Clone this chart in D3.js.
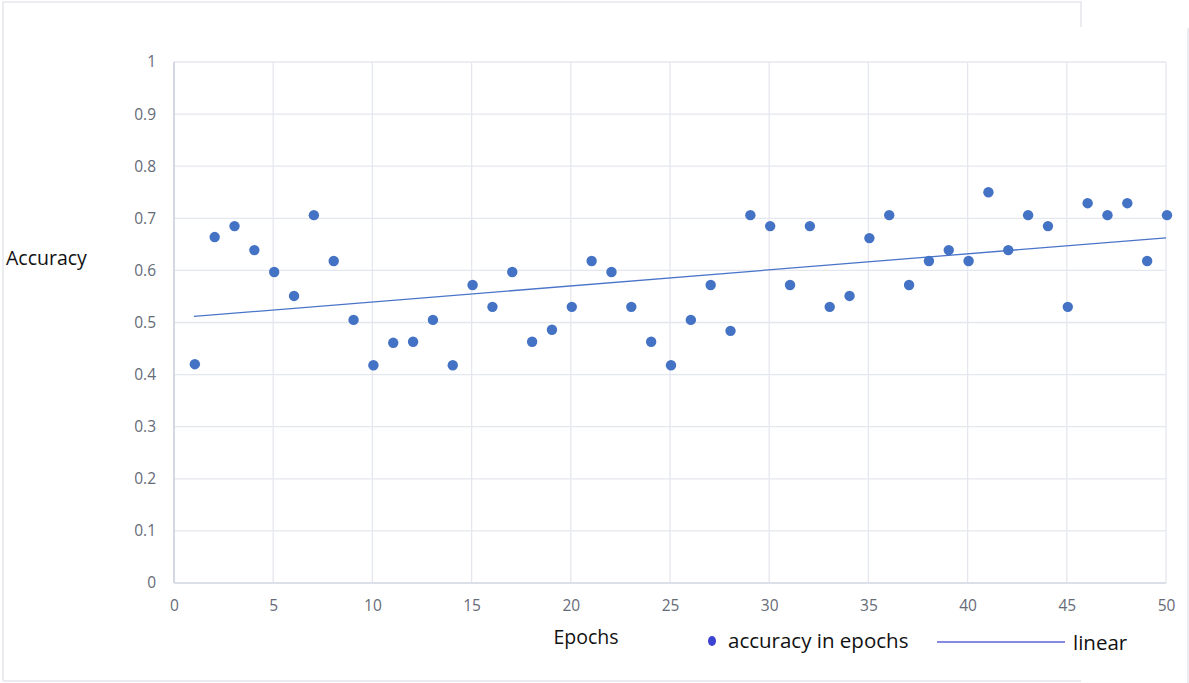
<!DOCTYPE html>
<html><head><meta charset="utf-8">
<script src="https://cdn.jsdelivr.net/npm/d3@7"></script>
<style>body{margin:0;background:#fff}svg{display:block}text{font-family:"Open Sans","Noto Sans",sans-serif}</style>
</head><body>
<svg id="c" width="1189" height="683"></svg>
<script>
const epochs = d3.range(1, 51);
const accuracy = [0.420,0.664,0.685,0.639,0.597,0.551,0.706,0.618,0.505,0.418,
0.461,0.463,0.505,0.418,0.572,0.530,0.597,0.463,0.486,0.530,
0.618,0.597,0.530,0.463,0.418,0.505,0.572,0.484,0.706,0.685,
0.572,0.685,0.530,0.551,0.662,0.706,0.572,0.618,0.639,0.618,
0.750,0.639,0.706,0.685,0.530,0.729,0.706,0.729,0.618,0.706];
const xTicks = [0,5,10,15,20,25,30,35,40,45,50];
const yTicks = [0,0.1,0.2,0.3,0.4,0.5,0.6,0.7,0.8,0.9,1];
const seriesName = "accuracy in epochs";
const trendName = "linear";

const svg = d3.select("#c");
const x = d3.scaleLinear().domain([0,50]).range([174,1166]);
const y = d3.scaleLinear().domain([0,1]).range([583,62]);

// outer frame
const frame = svg.append("g").attr("stroke","#e3e6ec").attr("fill","none").attr("stroke-width",1.5);
frame.append("path").attr("d","M3,681 V2 H1081 V27");
frame.append("path").attr("d","M1188,28 V683");
frame.append("path").attr("d","M3,681 H1081");

// grid
svg.append("g").selectAll("line").data(yTicks).join("line")
  .attr("x1",x(0)).attr("x2",x(50)).attr("y1",d=>y(d)).attr("y2",d=>y(d))
  .attr("stroke","#e4e7ee").attr("stroke-width",1.3);
svg.append("g").selectAll("line").data(xTicks).join("line")
  .attr("y1",y(0)).attr("y2",y(1)).attr("x1",d=>x(d)).attr("x2",d=>x(d))
  .attr("stroke","#e4e7ee").attr("stroke-width",1.3);
// axis lines
svg.append("line").attr("x1",x(0)).attr("x2",x(0)).attr("y1",y(0)).attr("y2",y(1)).attr("stroke","#c5ccd9").attr("stroke-width",1.3);
svg.append("line").attr("x1",x(0)).attr("x2",x(50)).attr("y1",y(0)).attr("y2",y(0)).attr("stroke","#d6dbe4").attr("stroke-width",1.3);

// tick labels
const yAxis = d3.axisLeft(y).tickValues(yTicks).tickSize(0).tickPadding(18).tickFormat(d=>d3.format("~g")(d));
const gy = svg.append("g").attr("transform",`translate(${x(0)},0)`).call(yAxis);
gy.select(".domain").remove();
gy.selectAll("text").attr("fill","#666b78").attr("font-size",15.5).attr("font-family","'Open Sans',sans-serif");
const xAxis = d3.axisBottom(x).tickValues(xTicks).tickSize(0).tickPadding(17);
const gx = svg.append("g").attr("transform",`translate(0,${y(0)})`).call(xAxis);
gx.select(".domain").remove();
gx.selectAll("text").attr("fill","#666b78").attr("font-size",15.5).attr("font-family","'Open Sans',sans-serif");

// trend line (least squares)
const n = epochs.length;
const mx = d3.mean(epochs), my = d3.mean(accuracy);
const slope = d3.sum(epochs,(e,i)=>(e-mx)*(accuracy[i]-my))/d3.sum(epochs,e=>(e-mx)*(e-mx));
const icpt = my - slope*mx;
const trend = [epochs[0], epochs[n-1]].map(e=>[e, icpt+slope*e]);
svg.append("path").datum(trend)
  .attr("d", d3.line().x(d=>x(d[0])).y(d=>y(d[1])))
  .attr("stroke","#4a74c9").attr("stroke-width",1.3).attr("fill","none");

// points
svg.append("g").selectAll("circle").data(epochs).join("circle")
  .attr("cx",d=>x(d)+1).attr("cy",(d,i)=>y(accuracy[i])).attr("r",5.2)
  .attr("fill","#4472c4");

// axis titles
svg.append("text").attr("x",6).attr("y",265).attr("font-size",19.5).attr("fill","#111").text("Accuracy");
svg.append("text").attr("x",586).attr("y",644).attr("text-anchor","middle").attr("font-size",19.5).attr("fill","#111").text("Epochs");

// legend
svg.append("ellipse").attr("cx",712).attr("cy",641).attr("rx",4).attr("ry",5).attr("fill","#3b44d0");
svg.append("text").attr("x",728).attr("y",648).attr("font-size",20.5).attr("fill","#111").text(seriesName);
svg.append("line").attr("x1",937).attr("x2",1065).attr("y1",642).attr("y2",642).attr("stroke","#5b62dc").attr("stroke-width",1.5);
svg.append("text").attr("x",1073).attr("y",650).attr("font-size",20.5).attr("fill","#111").text(trendName);
</script>
</body></html>
